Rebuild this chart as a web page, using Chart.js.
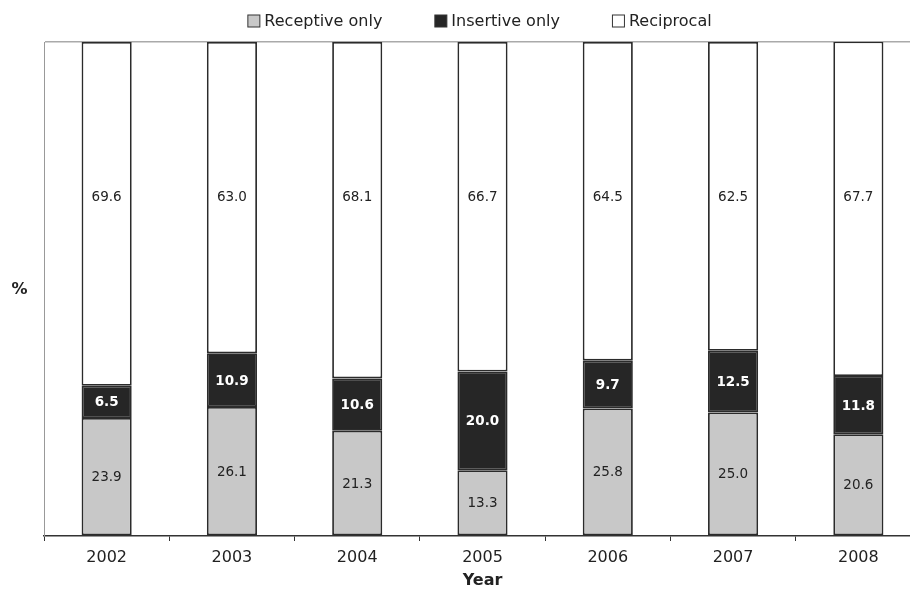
<!DOCTYPE html>
<html>
<head>
<meta charset="utf-8">
<script src="https://cdn.jsdelivr.net/npm/chart.js@4"></script>
<style>
  html, body { margin: 0; padding: 0; background: #fff; overflow: hidden; }
  #wrap { width: 930px; height: 590px; }
</style>
</head>
<body>
<div id="wrap"><canvas id="myChart" width="930" height="590"></canvas></div>
<script>
// data
const years = ['2002', '2003', '2004', '2005', '2006', '2007', '2008'];
const receptive = [23.9, 26.1, 21.3, 13.3, 25.8, 25.0, 20.6];
const insertive = [6.5, 10.9, 10.6, 20.0, 9.7, 12.5, 11.8];
const reciprocal = [69.6, 63.0, 68.1, 66.7, 64.5, 62.5, 67.7];
const seriesNames = ['Receptive only', 'Insertive only', 'Reciprocal'];

const FONT = "'DejaVu Sans', sans-serif";
const INK = '#222';

// value labels inside the bars
const valueLabels = {
  id: 'valueLabels',
  afterDatasetsDraw(chart) {
    const ctx = chart.ctx;
    const yScale = chart.scales.y;
    // reciprocal labels sit on one line, centred in the band that is free in every bar
    const maxBase = Math.max(...receptive.map((v, i) => v + insertive[i]));
    const recY = yScale.getPixelForValue((maxBase + 100) / 2);
    ctx.save();
    ctx.textAlign = 'center';
    ctx.textBaseline = 'middle';
    chart.data.datasets.forEach((ds, di) => {
      const meta = chart.getDatasetMeta(di);
      meta.data.forEach((bar, i) => {
        let y = (bar.y + bar.base) / 2;
        if (di === 2) y = recY;
        if (di === 1) {
          ctx.font = 'bold 13.5px ' + FONT;
          ctx.fillStyle = '#fff';
        } else {
          ctx.font = '13.5px ' + FONT;
          ctx.fillStyle = INK;
        }
        ctx.fillText(ds.data[i].toFixed(1), bar.x, y + 1);
      });
    });
    ctx.restore();
  }
};

// legend across the top + the "%" axis label
const topLegend = {
  id: 'topLegend',
  afterDraw(chart) {
    const ctx = chart.ctx;
    const area = chart.chartArea;
    ctx.save();
    ctx.font = '16px ' + FONT;
    ctx.textBaseline = 'middle';
    ctx.textAlign = 'left';
    const box = 12, gapText = 5, gapItem = 52;
    const widths = chart.data.datasets.map(ds => box + gapText + ctx.measureText(ds.label).width);
    const total = widths.reduce((a, b) => a + b, 0) + gapItem * (widths.length - 1);
    let x = (area.left + area.right) / 2 - 3 - total / 2;
    const y = 21;
    chart.data.datasets.forEach((ds, i) => {
      ctx.fillStyle = ds.backgroundColor;
      ctx.fillRect(x + 0.5, y - box / 2, box, box);
      ctx.strokeStyle = '#333';
      ctx.lineWidth = 1;
      ctx.strokeRect(x + 0.5, y - box / 2, box, box);
      ctx.fillStyle = INK;
      ctx.fillText(ds.label, x + box + gapText, y + 1);
      x += widths[i] + gapItem;
    });

    ctx.font = 'bold 16px ' + FONT;
    ctx.textAlign = 'center';
    ctx.fillText('%', 19.5, (area.top + area.bottom) / 2 + 1);
    ctx.restore();
  }
};

const barStyle = {
  borderColor: '#2b2b2b',
  borderWidth: 1.8,
  borderSkipped: false,
  barPercentage: 0.4,
  categoryPercentage: 1.0
};

const config = {
  type: 'bar',
  data: {
    labels: years,
    datasets: [
      Object.assign({ label: seriesNames[0], data: receptive, backgroundColor: '#c8c8c8' }, barStyle),
      Object.assign({ label: seriesNames[1], data: insertive, backgroundColor: '#262626' }, barStyle),
      Object.assign({ label: seriesNames[2], data: reciprocal, backgroundColor: '#ffffff' }, barStyle)
    ]
  },
  options: {
    responsive: false,
    animation: false,
    layout: { padding: { left: 44, top: 42, right: 9, bottom: 0 } },
    plugins: {
      legend: { display: false },
      tooltip: { enabled: false }
    },
    scales: {
      x: {
        stacked: true,
        grid: {
          drawOnChartArea: false,
          drawTicks: true,
          tickLength: 5,
          tickColor: '#333',
          tickWidth: 1
        },
        border: { color: '#333', width: 1.5 },
        ticks: { color: INK, font: { family: FONT, size: 16 }, padding: 7, maxRotation: 0 },
        title: {
          display: true,
          text: 'Year',
          color: INK,
          font: { family: FONT, size: 16, weight: 'bold' },
          padding: { top: 0, bottom: 0 }
        },
        afterFit(scale) { scale.height = 54; }
      },
      y: {
        stacked: true,
        min: 0,
        max: 100,
        ticks: { display: false, stepSize: 100 },
        grid: {
          drawTicks: false,
          lineWidth: 1.5,
          color: c => (c.tick && c.tick.value === 100 ? '#aaa' : 'rgba(0,0,0,0)')
        },
        border: { color: '#999', width: 1 },
        afterFit(scale) { scale.width = 0; }
      }
    }
  },
  plugins: [valueLabels, topLegend]
};

let ctx = document.getElementById('myChart').getContext('2d');
let myChart = new Chart(ctx, config);
</script>
</body>
</html>
